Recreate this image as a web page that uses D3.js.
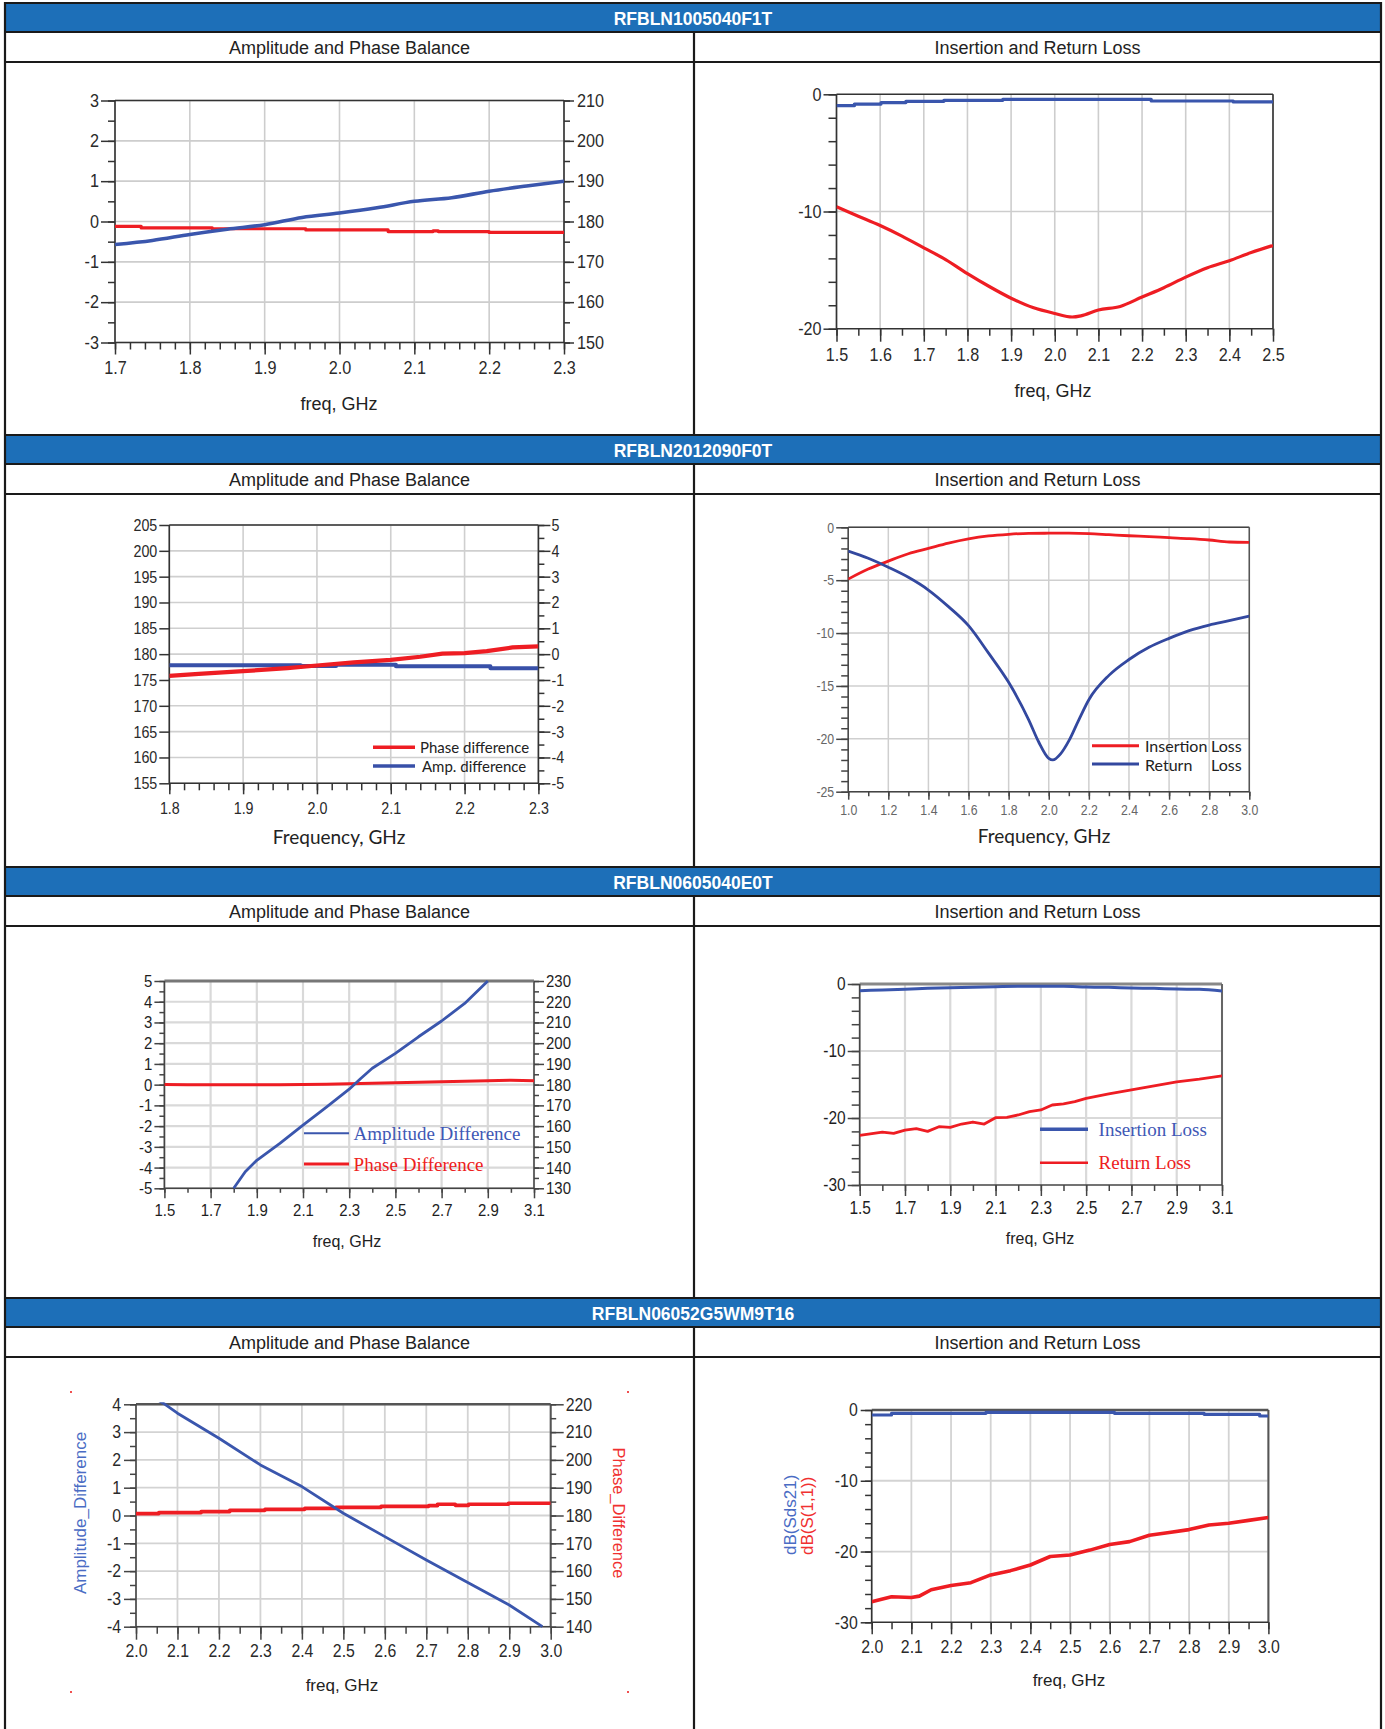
<!DOCTYPE html>
<html><head><meta charset="utf-8">
<script src="https://cdn.jsdelivr.net/npm/d3@7"></script>
<style>
html,body{margin:0;padding:0;background:#fff;}
svg{display:block;}
</style></head>
<body>
<svg id="c" width="1385" height="1729"></svg>
<script>
// ---------------- DATA ----------------
const headers = ["RFBLN1005040F1T","RFBLN2012090F0T","RFBLN0605040E0T","RFBLN06052G5WM9T16"];
const subTitles = ["Amplitude and Phase Balance","Insertion and Return Loss"];

// Chart 1 (RFBLN1005040F1T, balance)
const c1Freq = [1.70,1.75,1.80,1.85,1.90,1.95,2.00,2.05,2.10,2.15,2.20,2.25,2.30];
const c1Amp = [-0.57,-0.47,-0.32,-0.19,-0.08,0.10,0.21,0.34,0.50,0.59,0.75,0.88,1.00];
const c1PhaseFreq = [1.70,1.735,1.83,1.955,2.065,2.125,2.132,2.14,2.20,2.30];
const c1Phase = [178.8,178.4,178.2,177.9,177.5,177.7,177.5,177.5,177.3,177.3];
const c1XTicks = [1.7,1.8,1.9,2.0,2.1,2.2,2.3];
const c1YTicks = [-3,-2,-1,0,1,2,3];
const c1Y2Ticks = [150,160,170,180,190,200,210];

// Chart 2 (RFBLN1005040F1T, loss)
const c2RetFreq = [1.50,1.55,1.60,1.65,1.70,1.75,1.80,1.85,1.90,1.95,2.00,2.04,2.06,2.10,2.15,2.20,2.25,2.30,2.35,2.40,2.45,2.50];
const c2Ret = [-9.6,-10.4,-11.2,-12.1,-13.1,-14.1,-15.3,-16.4,-17.4,-18.2,-18.7,-19.0,-18.9,-18.4,-18.1,-17.3,-16.5,-15.6,-14.8,-14.2,-13.5,-12.9];
const c2InsFreq = [1.50,1.541,1.602,1.659,1.746,1.881,2.221,2.409,2.50];
const c2Ins = [-0.97,-0.83,-0.71,-0.60,-0.51,-0.43,-0.57,-0.65,-0.65];
const c2XTicks = [1.5,1.6,1.7,1.8,1.9,2.0,2.1,2.2,2.3,2.4,2.5];
const c2YTicks = [-20,-10,0];

// Chart 3 (RFBLN2012090F0T, balance)
const c3PhaseFreq = [1.80,1.84,1.90,1.96,2.00,2.05,2.10,2.14,2.17,2.20,2.23,2.265,2.30];
const c3Phase = [175.8,176.2,176.7,177.3,177.8,178.4,178.9,179.5,180.1,180.2,180.6,181.3,181.5];
const c3AmpFreq = [1.80,1.978,2.026,2.107,2.235,2.30];
const c3Amp = [-0.43,-0.46,-0.41,-0.47,-0.55,-0.55];
const c3XTicks = [1.8,1.9,2.0,2.1,2.2,2.3];
const c3YTicks = [155,160,165,170,175,180,185,190,195,200,205];
const c3Y2Ticks = [-5,-4,-3,-2,-1,0,1,2,3,4,5];
const c3Legend = ["Phase difference","Amp. difference"];

// Chart 4 (RFBLN2012090F0T, loss)
const c4InsFreq = [1.0,1.1,1.2,1.3,1.4,1.5,1.6,1.7,1.8,1.9,2.0,2.1,2.2,2.3,2.4,2.5,2.6,2.7,2.8,2.9,3.0];
const c4Ins = [-4.9,-3.95,-3.2,-2.5,-2.0,-1.5,-1.1,-0.82,-0.66,-0.57,-0.56,-0.56,-0.6,-0.7,-0.8,-0.88,-0.98,-1.07,-1.2,-1.39,-1.42];
const c4RetFreq = [1.0,1.1,1.2,1.3,1.4,1.5,1.6,1.7,1.8,1.9,1.95,2.0,2.02,2.06,2.1,2.15,2.2,2.3,2.4,2.5,2.6,2.7,2.8,2.9,3.0];
const c4Ret = [-2.24,-2.93,-3.78,-4.73,-5.93,-7.5,-9.3,-11.9,-14.66,-18.2,-20.3,-21.85,-22.0,-21.4,-20.2,-18.2,-16.3,-14.0,-12.5,-11.35,-10.5,-9.77,-9.24,-8.83,-8.39];
const c4XTicks = [1.0,1.2,1.4,1.6,1.8,2.0,2.2,2.4,2.6,2.8,3.0];
const c4YTicks = [-25,-20,-15,-10,-5,0];

// Chart 5 (RFBLN0605040E0T, balance)
const c5AmpFreq = [1.80,1.85,1.90,2.00,2.10,2.20,2.30,2.35,2.40,2.50,2.60,2.70,2.80,2.90];
const c5Amp = [-5.0,-4.2,-3.65,-2.83,-1.95,-1.1,-0.22,0.3,0.79,1.51,2.31,3.07,3.92,5.0];
const c5PhaseFreq = [1.5,1.6,1.7,1.8,1.9,2.0,2.1,2.2,2.3,2.4,2.5,2.6,2.7,2.8,2.9,3.0,3.1];
const c5Phase = [180.1,180.0,179.9,180.0,179.9,180.0,180.1,180.2,180.4,180.7,180.9,181.1,181.4,181.6,181.9,182.1,181.9];
const c5XTicks = [1.5,1.7,1.9,2.1,2.3,2.5,2.7,2.9,3.1];
const c5YTicks = [-5,-4,-3,-2,-1,0,1,2,3,4,5];
const c5Y2Ticks = [130,140,150,160,170,180,190,200,210,220,230];
const c5Legend = ["Amplitude Difference","Phase Difference"];

// Chart 6 (RFBLN0605040E0T, loss)
const c6InsFreq = [1.5,1.6,1.7,1.8,1.9,2.0,2.1,2.2,2.3,2.4,2.5,2.6,2.7,2.8,2.9,3.0,3.1];
const c6Ins = [-1.0,-0.9,-0.8,-0.65,-0.55,-0.5,-0.4,-0.35,-0.35,-0.35,-0.45,-0.5,-0.6,-0.65,-0.75,-0.8,-1.05];
const c6RetFreq = [1.5,1.6,1.65,1.7,1.75,1.8,1.85,1.9,1.95,2.0,2.05,2.1,2.15,2.2,2.25,2.3,2.35,2.4,2.45,2.5,2.6,2.7,2.8,2.9,3.0,3.1];
const c6Ret = [-22.6,-22.1,-22.3,-21.8,-21.6,-22.0,-21.3,-21.4,-20.9,-20.6,-20.9,-19.95,-19.9,-19.55,-19.05,-18.8,-18.06,-17.9,-17.56,-17.06,-16.4,-15.8,-15.2,-14.6,-14.2,-13.7];
const c6XTicks = [1.5,1.7,1.9,2.1,2.3,2.5,2.7,2.9,3.1];
const c6YTicks = [-30,-20,-10,0];
const c6Legend = ["Insertion Loss","Return Loss"];

// Chart 7 (RFBLN06052G5WM9T16, balance)
const c7AmpFreq = [2.0,2.07,2.1,2.2,2.3,2.4,2.5,2.6,2.7,2.8,2.9,2.98];
const c7Amp = [4.62,4.0,3.68,2.78,1.82,1.04,0.08,-0.76,-1.6,-2.41,-3.22,-4.0];
const c7PhaseFreq = [2.0,2.055,2.157,2.226,2.311,2.407,2.482,2.591,2.706,2.727,2.770,2.802,2.898,3.0];
const c7Phase = [180.66,181.02,181.38,181.86,182.22,182.58,182.94,183.30,183.54,184.02,183.66,184.02,184.38,184.38];
const c7XTicks = [2.0,2.1,2.2,2.3,2.4,2.5,2.6,2.7,2.8,2.9,3.0];
const c7YTicks = [-4,-3,-2,-1,0,1,2,3,4];
const c7Y2Ticks = [140,150,160,170,180,190,200,210,220];
const c7Titles = ["Amplitude_Difference","Phase_Difference"];

// Chart 8 (RFBLN06052G5WM9T16, loss)
const c8InsFreq = [2.0,2.05,2.288,2.612,2.838,2.978,3.0];
const c8Ins = [-0.71,-0.47,-0.33,-0.47,-0.61,-0.85,-0.85];
const c8RetFreq = [2.0,2.05,2.1,2.12,2.15,2.2,2.25,2.3,2.35,2.4,2.45,2.5,2.55,2.6,2.65,2.7,2.75,2.8,2.85,2.9,2.95,3.0];
const c8Ret = [-27.1,-26.4,-26.5,-26.3,-25.4,-24.8,-24.4,-23.3,-22.7,-21.9,-20.7,-20.5,-19.8,-19.0,-18.6,-17.7,-17.3,-16.9,-16.25,-16.0,-15.6,-15.2];
const c8XTicks = [2.0,2.1,2.2,2.3,2.4,2.5,2.6,2.7,2.8,2.9,3.0];
const c8YTicks = [-30,-20,-10,0];
const c8Titles = ["dB(Sds21)","dB(S(1,1))"];

// ---------------- RENDER ----------------
const svg = d3.select('#c');
svg.append('rect').attr('width',1385).attr('height',1729).attr('fill','#fff');

const SANS = "'Liberation Sans', Arial, Helvetica, sans-serif";
const SERIF = "'Liberation Serif', 'Times New Roman', serif";
const CAL = "Lato, 'Open Sans', sans-serif";

const BLUE = '#3a56ad', RED = '#ee1d23';
const TL=5, TR=1381, TM=694, HDR=29, SUB=30;
const rowTops=[3,435,867,1298];

// table
const tbl = svg.append('g');
rowTops.forEach((t,r)=>{
  const next = r<3 ? rowTops[r+1] : 1729;
  tbl.append('rect').attr('x',TL).attr('y',t).attr('width',TR-TL).attr('height',HDR).attr('fill','#1d6fb8');
  tbl.append('text').attr('x',(TL+TR)/2).attr('y',t+HDR/2+1).attr('text-anchor','middle').attr('dominant-baseline','central')
    .attr('font-family',SANS).attr('font-weight','bold').attr('font-size',17.5).attr('fill','#fff').text(headers[r]);
  subTitles.forEach((s,k)=>{
    tbl.append('text').attr('x',k===0?(TL+TM)/2:(TM+TR)/2).attr('y',t+HDR+SUB/2+1).attr('text-anchor','middle')
      .attr('dominant-baseline','central').attr('font-family',SANS).attr('font-size',18).attr('fill','#222').text(s);
  });
  [t,t+HDR,t+HDR+SUB].forEach(y=>tbl.append('line').attr('x1',TL).attr('x2',TR).attr('y1',y).attr('y2',y).attr('stroke','#1a1a1a').attr('stroke-width',2.2));
  tbl.append('line').attr('x1',TM).attr('x2',TM).attr('y1',t+HDR).attr('y2',next).attr('stroke','#1a1a1a').attr('stroke-width',2.2);
});
[TL,TR].forEach(x=>tbl.append('line').attr('x1',x).attr('x2',x).attr('y1',2).attr('y2',1729).attr('stroke','#1a1a1a').attr('stroke-width',2.2));

function rng(a,b,s){ const out=[]; const n=Math.round((b-a)/s); for(let i=0;i<=n;i++) out.push(+(a+i*s).toFixed(6)); return out; }
let clipN=0;
function drawChart(o){
  const g = svg.append('g');
  const x = d3.scaleLinear().domain(o.xDom).range([o.x0,o.x1]);
  const yL = d3.scaleLinear().domain(o.yLDom).range([o.y1,o.y0]);
  const yR = o.yRDom ? d3.scaleLinear().domain(o.yRDom).range([o.y1,o.y0]) : null;
  // grid
  g.append('g').selectAll('line').data(o.xGrid).join('line')
    .attr('x1',d=>x(d)).attr('x2',d=>x(d)).attr('y1',o.y0).attr('y2',o.y1)
    .attr('stroke',o.gridColor).attr('stroke-width',o.gridW);
  g.append('g').selectAll('line').data(o.yGrid).join('line')
    .attr('y1',d=>yL(d)).attr('y2',d=>yL(d)).attr('x1',o.x0).attr('x2',o.x1)
    .attr('stroke',o.gridColor).attr('stroke-width',o.gridW);
  // frame
  const fr = o.frame;
  g.append('line').attr('x1',o.x0).attr('x2',o.x1).attr('y1',o.y0).attr('y2',o.y0).attr('stroke',fr.top[0]).attr('stroke-width',fr.top[1]);
  g.append('line').attr('x1',o.x1).attr('x2',o.x1).attr('y1',o.y0).attr('y2',o.y1).attr('stroke',fr.right[0]).attr('stroke-width',fr.right[1]);
  g.append('line').attr('x1',o.x0).attr('x2',o.x1).attr('y1',o.y1).attr('y2',o.y1).attr('stroke',fr.base[0]).attr('stroke-width',fr.base[1]);
  g.append('line').attr('x1',o.x0).attr('x2',o.x0).attr('y1',o.y0).attr('y2',o.y1).attr('stroke',fr.base[0]).attr('stroke-width',fr.base[1]);
  // axes
  const style = (sel)=>{
    sel.select('.domain').remove();
    sel.selectAll('.tick line').attr('stroke',o.tickColor).attr('stroke-width',1.5);
    sel.selectAll('text').attr('font-family',o.font).attr('font-size',o.fs).attr('fill',o.tc);
    if(o.compress){
      sel.selectAll('text').each(function(){
        const L=this.getComputedTextLength();
        if(L>0){ this.setAttribute('textLength',(L*o.compress).toFixed(2)); this.setAttribute('lengthAdjust','spacingAndGlyphs'); }
      });
    }
  };
  if(o.xMinor) g.append('g').attr('transform',`translate(0,${o.y1})`).call(d3.axisBottom(x).tickValues(o.xMinor).tickSize(o.xT[1]).tickFormat('')).call(style);
  g.append('g').attr('transform',`translate(0,${o.y1})`).call(d3.axisBottom(x).tickValues(o.xTicks).tickSize(o.xT[0]).tickPadding(o.xT[2]).tickFormat(d=>d.toFixed(1))).call(style);
  if(o.yLMinor) g.append('g').attr('transform',`translate(${o.x0},0)`).call(d3.axisLeft(yL).tickValues(o.yLMinor).tickSize(o.yLT[1]).tickFormat('')).call(style);
  g.append('g').attr('transform',`translate(${o.x0},0)`).call(d3.axisLeft(yL).tickValues(o.yLTicks).tickSize(o.yLT[0]).tickPadding(o.yLT[2]).tickFormat(d=>String(d))).call(style);
  if(yR){
    if(o.yRMinor) g.append('g').attr('transform',`translate(${o.x1},0)`).call(d3.axisRight(yR).tickValues(o.yRMinor).tickSize(o.yRT[1]).tickFormat('')).call(style);
    g.append('g').attr('transform',`translate(${o.x1},0)`).call(d3.axisRight(yR).tickValues(o.yRTicks).tickSize(o.yRT[0]).tickPadding(o.yRT[2]).tickFormat(d=>String(d))).call(style);
  }
  // series
  const cid = 'clip'+(clipN++);
  g.append('clipPath').attr('id',cid).append('rect').attr('x',o.x0).attr('y',o.y0-2).attr('width',o.x1-o.x0).attr('height',o.y1-o.y0+4);
  o.series.forEach(s=>{
    const ys = s.axis==='R' ? yR : yL;
    const curve = s.step ? d3.curveStepAfter : (s.smooth ? d3.curveMonotoneX : d3.curveLinear);
    const line = d3.line().x((d,i)=>x(s.x[i])).y(d=>ys(d)).curve(curve);
    g.append('path').attr('d',line(s.y)).attr('fill','none').attr('stroke',s.color).attr('stroke-width',s.w)
      .attr('stroke-linejoin','round').attr('clip-path',`url(#${cid})`);
  });
  // x title
  g.append('text').attr('x',o.xTitle[1]).attr('y',o.xTitle[2]).attr('text-anchor','middle').attr('dominant-baseline','central')
    .attr('font-family',o.xTitle[3]).attr('font-size',o.xTitle[4]).attr('fill','#222').text(o.xTitle[0]);
  return {g,x,yL,yR};
}

const baseFrame = {top:['#333',1.6],right:['#333',1.6],base:['#333',1.6]};

// Chart 1
drawChart({x0:115,x1:564,y0:100.5,y1:342.5,xDom:[1.7,2.3],yLDom:[-3,3],yRDom:[150,210],
  xTicks:c1XTicks,xMinor:rng(1.7,2.3,0.02),xT:[12,7,7],
  yLTicks:c1YTicks,yLMinor:rng(-3,3,0.5),yLT:[14,7,2],
  yRTicks:c1Y2Ticks,yRMinor:rng(150,210,5),yRT:[10,6,3],
  xGrid:c1XTicks,yGrid:c1YTicks,gridColor:'#cdcdcd',gridW:1.6,frame:baseFrame,tickColor:'#333',
  font:SANS,fs:18,tc:'#2a2a2a',compress:0.9,
  series:[{x:c1PhaseFreq,y:c1Phase,axis:'R',color:RED,w:3.2,step:true},{x:c1Freq,y:c1Amp,axis:'L',color:BLUE,w:3.6,smooth:true}],
  xTitle:['freq, GHz',339,404,SANS,18]});

// Chart 2
drawChart({x0:836.5,x1:1273,y0:94.3,y1:328.7,xDom:[1.5,2.5],yLDom:[-20,0],
  xTicks:c2XTicks,xMinor:rng(1.5,2.5,0.05),xT:[13,7,6],
  yLTicks:c2YTicks,yLMinor:rng(-20,0,2),yLT:[13,8,2],
  xGrid:c2XTicks,yGrid:[-10],gridColor:'#cdcdcd',gridW:1.6,frame:baseFrame,tickColor:'#333',
  font:SANS,fs:19,tc:'#2a2a2a',compress:0.85,
  series:[{x:c2InsFreq,y:c2Ins,axis:'L',color:BLUE,w:3.2,step:true},{x:c2RetFreq,y:c2Ret,axis:'L',color:RED,w:3.2,smooth:true}],
  xTitle:['freq, GHz',1053,391,SANS,18]});

// Chart 3
const ch3 = drawChart({x0:169.3,x1:538.4,y0:525,y1:783.3,xDom:[1.8,2.3],yLDom:[155,205],yRDom:[-5,5],
  xTicks:c3XTicks,xMinor:rng(1.8,2.3,0.02),xT:[11,7,8],
  yLTicks:c3YTicks,yLMinor:null,yLT:[10,0,2],
  yRTicks:c3Y2Ticks,yRMinor:rng(-5,5,0.5),yRT:[12,6,1],
  xGrid:c3XTicks,yGrid:c3YTicks,gridColor:'#cfcfcf',gridW:1.6,frame:baseFrame,tickColor:'#333',
  font:SANS,fs:17,tc:'#2a2a2a',compress:0.84,
  series:[{x:c3AmpFreq,y:c3Amp,axis:'R',color:'#3850a8',w:4,step:true},{x:c3PhaseFreq,y:c3Phase,axis:'L',color:RED,w:4.2}],
  xTitle:['Frequency, GHz',339,836,CAL,19]});
[[RED,747.3,c3Legend[0],420],['#3850a8',766,c3Legend[1],422]].forEach(([c,y,t,tx])=>{
  ch3.g.append('line').attr('x1',373).attr('x2',415).attr('y1',y).attr('y2',y).attr('stroke',c).attr('stroke-width',3.5);
  ch3.g.append('text').attr('x',tx).attr('y',y).attr('dominant-baseline','central').attr('font-family',CAL).attr('font-size',15).attr('fill','#222').text(t);
});

// Chart 4
const ch4 = drawChart({x0:848.2,x1:1249.3,y0:527.3,y1:791.7,xDom:[1.0,3.0],yLDom:[-25,0],
  xTicks:c4XTicks,xMinor:rng(1.0,3.0,0.1),xT:[8,4.5,5],
  yLTicks:c4YTicks,yLMinor:rng(-25,0,1),yLT:[12,7,2],
  xGrid:c4XTicks,yGrid:c4YTicks,gridColor:'#cfcfcf',gridW:1.5,frame:{top:['#444',1.5],right:['#555',1.5],base:['#444',1.5]},tickColor:'#444',
  font:SANS,fs:15,tc:'#666',compress:0.82,
  series:[{x:c4InsFreq,y:c4Ins,axis:'L',color:RED,w:2.8,smooth:true},{x:c4RetFreq,y:c4Ret,axis:'L',color:'#33489f',w:2.8,smooth:true}],
  xTitle:['Frequency, GHz',1044,835,CAL,19]});
[[RED,745.7,'Insertion'],['#33489f',764,'Return']].forEach(([c,y,t])=>{
  ch4.g.append('line').attr('x1',1092).attr('x2',1139).attr('y1',y).attr('y2',y).attr('stroke',c).attr('stroke-width',3);
  ch4.g.append('text').attr('x',1145).attr('y',y).attr('dominant-baseline','central').attr('font-family',CAL).attr('font-size',16).attr('fill','#222').text(t);
  ch4.g.append('text').attr('x',1211).attr('y',y).attr('dominant-baseline','central').attr('font-family',CAL).attr('font-size',16).attr('fill','#222').text('Loss');
});

// Chart 5
const ch5 = drawChart({x0:164.4,x1:534,y0:981,y1:1188.3,xDom:[1.5,3.1],yLDom:[-5,5],yRDom:[130,230],
  xTicks:c5XTicks,xMinor:rng(1.5,3.1,0.1),xT:[10,4.5,6],
  yLTicks:c5YTicks,yLMinor:rng(-5,5,0.5),yLT:[10,5,2],
  yRTicks:c5Y2Ticks,yRMinor:rng(130,230,5),yRT:[10,5,2],
  xGrid:c5XTicks,yGrid:c5YTicks,gridColor:'#d9d9d9',gridW:2.2,frame:{top:['#777',3],right:['#666',2],base:['#444',1.6]},tickColor:'#444',
  font:SANS,fs:17,tc:'#1e1e1e',compress:0.88,
  series:[{x:c5PhaseFreq,y:c5Phase,axis:'R',color:RED,w:3},{x:c5AmpFreq,y:c5Amp,axis:'L',color:BLUE,w:2.8}],
  xTitle:['freq, GHz',347,1241,SANS,16]});
[[BLUE,1133.3,c5Legend[0],2,'#3f58b5'],[RED,1164,c5Legend[1],3,'#ee2020']].forEach(([c,y,t,w,tc])=>{
  ch5.g.append('line').attr('x1',304).attr('x2',349).attr('y1',y).attr('y2',y).attr('stroke',c).attr('stroke-width',w);
  ch5.g.append('text').attr('x',353.6).attr('y',y).attr('dominant-baseline','central').attr('font-family',SERIF).attr('font-size',19).attr('fill',tc).text(t);
});

// Chart 6
const ch6 = drawChart({x0:859.7,x1:1222,y0:984,y1:1185,xDom:[1.5,3.1],yLDom:[-30,0],
  xTicks:c6XTicks,xMinor:rng(1.5,3.1,0.1),xT:[11,6,5],
  yLTicks:c6YTicks,yLMinor:rng(-30,0,2),yLT:[12,8,2],
  xGrid:c6XTicks,yGrid:[-10,-20],gridColor:'#d9d9d9',gridW:2.2,frame:{top:['#888',3],right:['#666',2],base:['#444',1.6]},tickColor:'#444',
  font:SANS,fs:18,tc:'#1e1e1e',compress:0.86,
  series:[{x:c6InsFreq,y:c6Ins,axis:'L',color:BLUE,w:3,smooth:true},{x:c6RetFreq,y:c6Ret,axis:'L',color:RED,w:2.8}],
  xTitle:['freq, GHz',1040,1238,SANS,16]});
[[BLUE,1129.3,c6Legend[0],3.5,'#3f58b5'],[RED,1162.7,c6Legend[1],2.5,'#ee2020']].forEach(([c,y,t,w,tc])=>{
  ch6.g.append('line').attr('x1',1040).attr('x2',1088).attr('y1',y).attr('y2',y).attr('stroke',c).attr('stroke-width',w);
  ch6.g.append('text').attr('x',1098.6).attr('y',y).attr('dominant-baseline','central').attr('font-family',SERIF).attr('font-size',19).attr('fill',tc).text(t);
});

// Chart 7
const ch7 = drawChart({x0:136,x1:550.7,y0:1404.3,y1:1626.7,xDom:[2.0,3.0],yLDom:[-4,4],yRDom:[140,220],
  xTicks:c7XTicks,xMinor:rng(2.0,3.0,0.05),xT:[13,7,5],
  yLTicks:c7YTicks,yLMinor:rng(-4,4,0.5),yLT:[12,6,3],
  yRTicks:c7Y2Ticks,yRMinor:rng(140,220,5),yRT:[13,5.5,2],
  xGrid:c7XTicks,yGrid:c7YTicks,gridColor:'#d3d3d3',gridW:1.8,frame:{top:['#555',2.5],right:['#555',2],base:['#444',1.6]},tickColor:'#444',
  font:SANS,fs:18,tc:'#2a2a2a',compress:0.88,
  series:[{x:c7PhaseFreq,y:c7Phase,axis:'R',color:RED,w:3.6,step:true},{x:c7AmpFreq,y:c7Amp,axis:'L',color:BLUE,w:2.8}],
  xTitle:['freq, GHz',342,1685,SANS,17]});
ch7.g.append('text').attr('transform','translate(80,1513) rotate(-90)').attr('text-anchor','middle').attr('dominant-baseline','central')
  .attr('font-family',SANS).attr('font-size',17).attr('fill','#4a6cc4').text(c7Titles[0]);
ch7.g.append('text').attr('transform','translate(619,1513) rotate(90)').attr('text-anchor','middle').attr('dominant-baseline','central')
  .attr('font-family',SANS).attr('font-size',16.5).attr('fill','#f03030').text(c7Titles[1]);
[[70,1391],[627,1391],[70,1691],[627,1691]].forEach(([a,b])=>ch7.g.append('rect').attr('x',a).attr('y',b).attr('width',2).attr('height',2).attr('fill','#f05050'));

// Chart 8
const ch8 = drawChart({x0:871.7,x1:1268.4,y0:1410,y1:1622.3,xDom:[2.0,3.0],yLDom:[-30,0],
  xTicks:c8XTicks,xMinor:rng(2.0,3.0,0.05),xT:[12,7,6],
  yLTicks:c8YTicks,yLMinor:rng(-30,0,2),yLT:[11,6.6,3],
  xGrid:c8XTicks,yGrid:[-10,-20],gridColor:'#d3d3d3',gridW:1.8,frame:{top:['#555',2.5],right:['#555',2],base:['#333',1.6]},tickColor:'#333',
  font:SANS,fs:18,tc:'#2a2a2a',compress:0.88,
  series:[{x:c8InsFreq,y:c8Ins,axis:'L',color:BLUE,w:3.2,step:true},{x:c8RetFreq,y:c8Ret,axis:'L',color:RED,w:3.6}],
  xTitle:['freq, GHz',1069,1680,SANS,17]});
ch8.g.append('text').attr('transform','translate(790,1555) rotate(-90)').attr('text-anchor','start').attr('dominant-baseline','central')
  .attr('font-family',SANS).attr('font-size',17).attr('fill','#4a6cc4').text(c8Titles[0]);
ch8.g.append('text').attr('transform','translate(807.5,1555) rotate(-90)').attr('text-anchor','start').attr('dominant-baseline','central')
  .attr('font-family',SANS).attr('font-size',17).attr('fill','#f03030').text(c8Titles[1]);
</script>
</body></html>
